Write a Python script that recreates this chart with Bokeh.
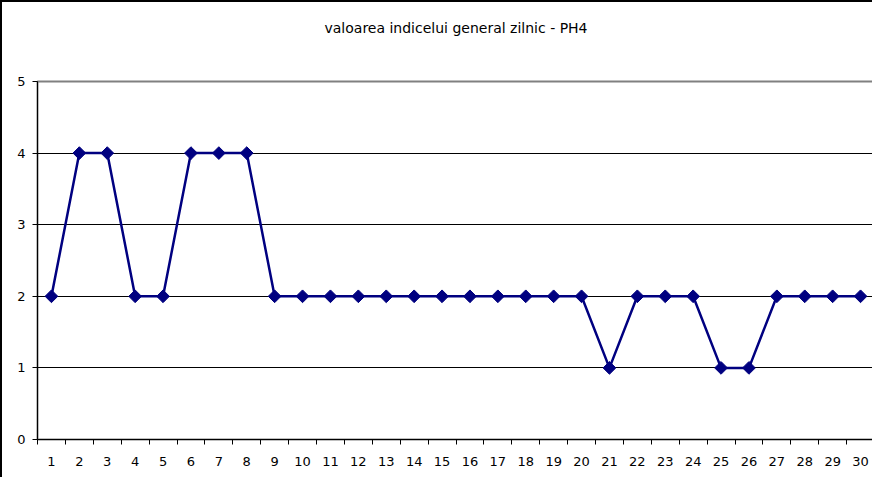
from bokeh.plotting import figure
from bokeh.models import FixedTicker, Range1d, LinearAxis, ColumnDataSource
from bokeh.embed import file_html
from bokeh.resources import INLINE
import math

days = list(range(1, 31))
values = [2, 4, 4, 2, 2, 4, 4, 4, 2, 2, 2, 2, 2, 2, 2, 2, 2, 2, 2, 2,
          1, 2, 2, 2, 1, 1, 2, 2, 2, 2]
y_ticks = [0, 1, 2, 3, 4, 5]
title_text = "valoarea indicelui general zilnic - PH4"

FONT = "DejaVu Sans"
NAVY = "#000080"

p = figure(width=872, height=477, output_backend="svg", toolbar_location=None,
           x_range=Range1d(0.5, 30.5), y_range=Range1d(0, 5),
           min_border_left=35, min_border_right=0, min_border_top=79,
           min_border_bottom=40,
           styles={"border-left": "2px solid black", "border-top": "2px solid black"})

# chart title, drawn as the label of a bare axis above the plot area
top_axis = LinearAxis(ticker=FixedTicker(ticks=[]), axis_label=title_text,
                      axis_line_color=None, major_tick_out=0, major_tick_in=0,
                      minor_tick_out=0, minor_tick_in=0,
                      axis_label_text_font=FONT, axis_label_text_font_size="14px",
                      axis_label_text_font_style="normal",
                      axis_label_text_color="black", axis_label_standoff=46)
p.add_layout(top_axis, "above")

p.background_fill_color = "white"
p.border_fill_color = "white"
p.outline_line_color = "#808080"
p.outline_line_width = 2

src = ColumnDataSource(dict(x=days, y=values))
p.line("x", "y", source=src, line_color=NAVY, line_width=2.5)
p.scatter("x", "y", source=src, marker="square", angle=math.pi / 4, size=9,
          fill_color=NAVY, line_color=NAVY)

# x axis: labels at centers, ticks at category boundaries
xa = p.below[0]
xa.ticker = FixedTicker(ticks=days, minor_ticks=[d + 0.5 for d in range(0, 31)])
xa.major_tick_out = 0
xa.major_tick_in = 0
xa.minor_tick_out = 5
xa.minor_tick_in = 0
xa.minor_tick_line_color = "black"
xa.axis_line_color = "black"
xa.major_label_text_font = FONT
xa.major_label_text_font_size = "13px"
xa.major_label_text_color = "black"
xa.major_label_standoff = 12

ya = p.yaxis[0]
ya.ticker = FixedTicker(ticks=y_ticks)
ya.major_tick_out = 5
ya.major_tick_in = 0
ya.minor_tick_out = 0
ya.minor_tick_in = 0
ya.axis_line_color = "black"
ya.major_tick_line_color = "black"
ya.major_label_text_font = FONT
ya.major_label_text_font_size = "13px"
ya.major_label_text_color = "black"
ya.major_label_standoff = 7

p.xgrid.grid_line_color = None
p.ygrid.ticker = FixedTicker(ticks=y_ticks)
p.ygrid.grid_line_color = "black"
p.ygrid.grid_line_width = 1

open("out.html", "w").write(file_html(p, INLINE))
